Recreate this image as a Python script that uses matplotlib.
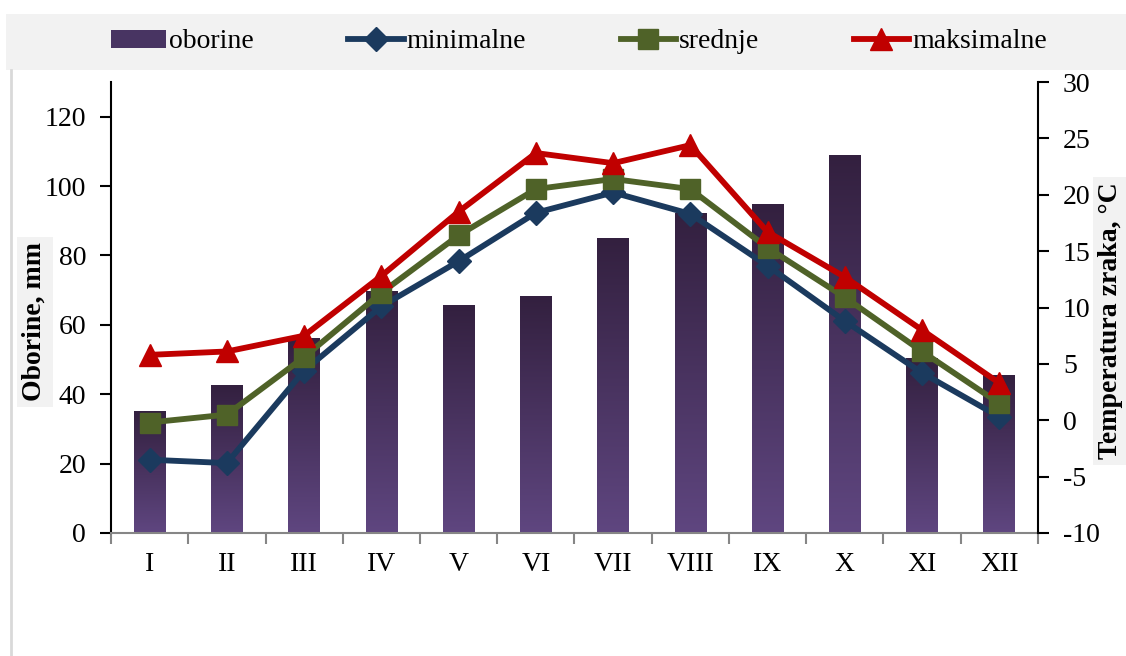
import numpy as np
import matplotlib.pyplot as plt
from matplotlib.colors import LinearSegmentedColormap
from matplotlib.lines import Line2D
from matplotlib.patches import Patch, Rectangle

plt.rcParams['font.family'] = ['Liberation Serif', 'DejaVu Serif']
plt.rcParams['axes.unicode_minus'] = False

# data
months = ["I", "II", "III", "IV", "V", "VI", "VII", "VIII", "IX", "X", "XI", "XII"]
oborine = [34.9, 42.4, 56.2, 69.5, 65.5, 68.1, 84.8, 92.0, 94.6, 108.7, 50.2, 45.3]  # mm
t_min = [-3.5, -3.8, 4.4, 10.1, 14.1, 18.4, 20.2, 18.3, 13.7, 8.8, 4.2, 0.3]
t_sred = [-0.2, 0.5, 5.6, 11.3, 16.4, 20.5, 21.4, 20.5, 15.3, 10.9, 6.1, 1.5]
t_max = [5.8, 6.1, 7.5, 12.8, 18.5, 23.7, 22.8, 24.4, 16.7, 12.7, 8.0, 3.3]

# colours
BAR_TOP = "#33203F"
BAR_BOT = "#5F4680"
C_MIN = "#1B3A5E"
C_SRED = "#4F6228"
C_MAX = "#C00000"
BAND = "#F2F2F2"
FS = 20
LW = 4.2

fig = plt.figure(figsize=(11.26, 6.56), dpi=100)
fig.patch.set_facecolor("white")

# grey legend band and chart-area border
fig.patches.append(Rectangle((0.0053, 0.893), 1.0, 0.0854, transform=fig.transFigure,
                             facecolor=BAND, edgecolor="none", zorder=0))
fig.add_artist(Line2D([0.0098, 0.0098], [0.0, 0.893], transform=fig.transFigure,
                      color="#D9D9D9", lw=2))

ax = fig.add_axes([0.0986, 0.1875, 0.8232, 0.6875])
x = np.arange(len(months))

# bars with vertical gradient
cmap = LinearSegmentedColormap.from_list("bar", [BAR_BOT, BAR_TOP])
grad = np.linspace(0, 1, 256).reshape(-1, 1)
bars = ax.bar(x, oborine, width=0.41, color="none", edgecolor="none")
for b in bars:
    ax.imshow(grad, extent=[b.get_x(), b.get_x() + b.get_width(), 0, b.get_height()],
              origin="lower", aspect="auto", cmap=cmap, zorder=2)

ax.set_xlim(-0.5, len(months) - 0.5)
ax.set_ylim(0, 130)
ax.set_yticks(np.arange(0, 121, 20))
ax.set_xticks(x)
ax.set_xticklabels(months)
ax.set_xticks(np.arange(-0.5, len(months), 1), minor=True)
ax.tick_params(axis="x", which="major", length=0, pad=14, labelsize=FS)
ax.tick_params(axis="x", which="minor", length=8, width=1.5, color="#868686", direction="out")
ax.tick_params(axis="y", length=8, width=1.5, direction="out", pad=10, labelsize=FS)
ax.spines["top"].set_visible(False)
ax.spines["right"].set_visible(False)
ax.spines["bottom"].set_color("#868686")
ax.spines["bottom"].set_linewidth(1.5)
ax.spines["left"].set_linewidth(1.5)
ax.set_ylabel("Oborine, mm", fontsize=FS, fontweight="bold",
              bbox=dict(facecolor=BAND, edgecolor="none", pad=4))
ax.yaxis.set_label_coords(-0.069, 0.468)

# temperatures on right axis
ax2 = ax.twinx()
ax2.plot(x, t_min, color=C_MIN, lw=LW, marker="D", ms=12, zorder=3)
ax2.plot(x, t_sred, color=C_SRED, lw=LW, marker="s", ms=15, zorder=4)
ax2.plot(x, t_max, color=C_MAX, lw=LW, marker="^", ms=16, zorder=5)
ax2.set_ylim(-10, 30)
ax2.set_yticks(np.arange(-10, 31, 5))
ax2.tick_params(axis="y", length=8, width=1.5, direction="out", pad=10, labelsize=FS)
for s in ["top", "left", "bottom"]:
    ax2.spines[s].set_visible(False)
ax2.spines["right"].set_linewidth(1.5)
ax2.set_ylabel("Temperatura zraka, °C", fontsize=FS, fontweight="bold", rotation=90,
               bbox=dict(facecolor=BAND, edgecolor="none", pad=4))
ax2.yaxis.set_label_coords(1.065, 0.47)

# legend
handles = [
    Patch(facecolor="#483462", edgecolor="none"),
    Line2D([], [], color=C_MIN, lw=LW, marker="D", ms=12),
    Line2D([], [], color=C_SRED, lw=LW, marker="s", ms=15),
    Line2D([], [], color=C_MAX, lw=LW, marker="^", ms=16),
]
labels = ["oborine", "minimalne", "srednje", "maksimalne"]
fig.legend(handles, labels, loc="center", bbox_to_anchor=(0.514, 0.936), ncol=4,
           frameon=False, fontsize=FS, handlelength=2.0, handletextpad=0.1,
           columnspacing=3.4, handleheight=0.6)

fig.savefig("out.png", dpi=100)
